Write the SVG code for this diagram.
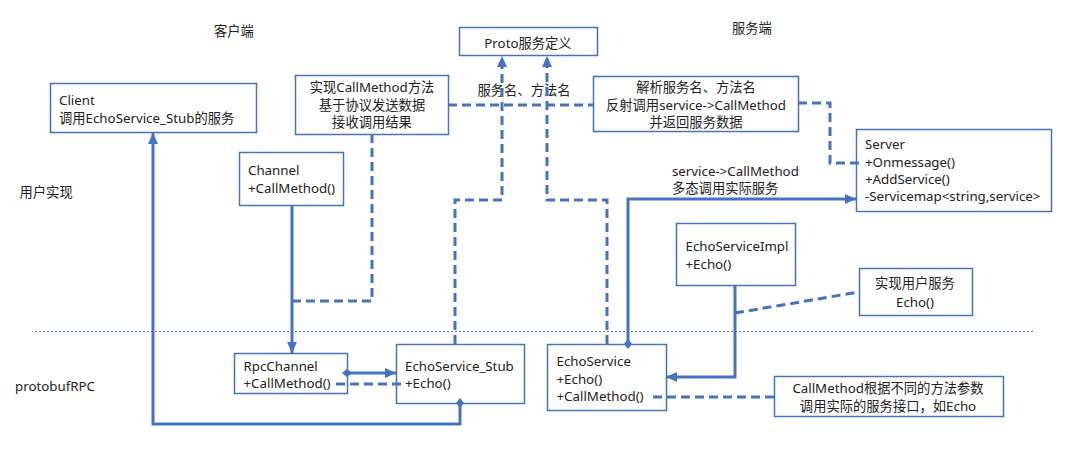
<svg xmlns="http://www.w3.org/2000/svg" width="1068" height="452" viewBox="0 0 1068 452">
<style>
  text { font-family: "Noto Sans", "Noto Sans CJK SC", sans-serif; font-size: 13.3px; fill: #222; }
  .c { text-anchor: middle; }
  .box { fill: #fff; stroke: #4472C4; stroke-width: 1.5; }
  .solid { fill: none; stroke: #4472C4; stroke-width: 3; }
  .dash { fill: none; stroke: #4472C4; stroke-width: 3; stroke-dasharray: 9 5; }
  .sep { fill: none; stroke: #4472C4; stroke-width: 1; stroke-dasharray: 2 2; }
</style>
<defs>
  <marker id="arrow" markerUnits="userSpaceOnUse" markerWidth="12" markerHeight="10" refX="11" refY="5" orient="auto">
    <path d="M0,0 L11,5 L0,10 Z" fill="#4472C4"/>
  </marker>
  <marker id="diamond" markerUnits="userSpaceOnUse" markerWidth="10" markerHeight="10" refX="5" refY="5" orient="auto">
    <path d="M0,5 L5,1 L10,5 L5,9 Z" fill="#4472C4"/>
  </marker>
</defs>
<rect width="1068" height="452" fill="#fff"/>

<g id="labels">
  <text x="214" y="36">客户端</text>
  <text x="732" y="33">服务端</text>
  <text x="19.5" y="197">用户实现</text>
  <text x="15" y="391">protobufRPC</text>
  <text x="524" y="95" class="c">服务名、方法名</text>
  <text x="672" y="176">service-&gt;CallMethod</text>
  <text x="672" y="193">多态调用实际服务</text>
</g>

<g id="client">
  <rect class="box" x="50.5" y="83.5" width="206" height="49"/>
  <text x="59" y="104.5">Client</text>
  <text x="59" y="123">调用EchoService_Stub的服务</text>
</g>

<g id="note-callmethod">
  <rect class="box" x="295.5" y="75.5" width="153" height="59"/>
  <text x="372" y="92" class="c">实现CallMethod方法</text>
  <text x="372" y="109.5" class="c">基于协议发送数据</text>
  <text x="372" y="127" class="c">接收调用结果</text>
</g>

<g id="proto">
  <rect class="box" x="459.5" y="27.5" width="138" height="28"/>
  <text x="528" y="47.5" class="c">Proto服务定义</text>
</g>

<g id="note-parse">
  <rect class="box" x="593.5" y="76.5" width="205" height="55"/>
  <text x="696" y="92" class="c">解析服务名、方法名</text>
  <text x="696" y="109.5" class="c">反射调用service-&gt;CallMethod</text>
  <text x="696" y="127" class="c">并返回服务数据</text>
</g>

<g id="server">
  <rect class="box" x="856.5" y="129.5" width="195" height="82"/>
  <text x="865" y="149">Server</text>
  <text x="865" y="167">+Onmessage()</text>
  <text x="865" y="183.5">+AddService()</text>
  <text x="865" y="200.5">-Servicemap&lt;string,service&gt;</text>
</g>

<g id="channel">
  <rect class="box" x="239.5" y="152.5" width="104" height="53"/>
  <text x="248" y="175">Channel</text>
  <text x="248" y="193">+CallMethod()</text>
</g>

<g id="echoserviceimpl">
  <rect class="box" x="676.5" y="223.5" width="119" height="62"/>
  <text x="685.5" y="251">EchoServiceImpl</text>
  <text x="685.5" y="269">+Echo()</text>
</g>

<g id="note-impl">
  <rect class="box" x="859.5" y="268.5" width="113" height="47"/>
  <text x="915" y="288" class="c">实现用户服务</text>
  <text x="915" y="307" class="c">Echo()</text>
</g>

<g id="rpcchannel">
  <rect class="box" x="234.5" y="353.5" width="113" height="40"/>
  <text x="243.5" y="370.5">RpcChannel</text>
  <text x="243.5" y="388">+CallMethod()</text>
</g>

<g id="echoservice-stub">
  <rect class="box" x="396.5" y="344.5" width="128" height="59"/>
  <text x="405" y="370.5">EchoService_Stub</text>
  <text x="405" y="388">+Echo()</text>
</g>

<g id="echoservice">
  <rect class="box" x="547.5" y="344.5" width="119" height="66"/>
  <text x="556.5" y="366">EchoService</text>
  <text x="556.5" y="384">+Echo()</text>
  <text x="556.5" y="401">+CallMethod()</text>
</g>

<g id="note-dispatch">
  <rect class="box" x="774.5" y="376.5" width="229" height="40"/>
  <text x="888" y="392.5" class="c">CallMethod根据不同的方法参数</text>
  <text x="888" y="410.5" class="c">调用实际的服务接口，如Echo</text>
</g>

<g id="connectors">
  <path class="sep" d="M35,331.5 H1033"/>
  <path class="solid" d="M460,403 V424 H153 V133" marker-start="url(#diamond)" marker-end="url(#arrow)"/>
  <path class="solid" d="M292,205 V353" marker-end="url(#arrow)"/>
  <path class="dash" d="M292,301 H372 V134"/>
  <path class="dash" d="M448,105 H593"/>
  <path class="dash" d="M798,103 H830 V163 H862"/>
  <path class="dash" d="M455,344 V200 H502 V56" marker-end="url(#arrow)"/>
  <path class="dash" d="M607,344 V200 H547 V56" marker-end="url(#arrow)"/>
  <path class="solid" d="M628,344 V199 H856" marker-start="url(#diamond)" marker-end="url(#arrow)"/>
  <path class="solid" d="M735,285 V377 H666" marker-end="url(#arrow)"/>
  <path class="dash" d="M735,313 L859,292"/>
  <path class="solid" d="M347,373 H396" marker-start="url(#diamond)" marker-end="url(#arrow)"/>
  <path class="dash" d="M336,384 H402"/>
  <path class="dash" d="M653,397 H774"/>
</g>
</svg>
